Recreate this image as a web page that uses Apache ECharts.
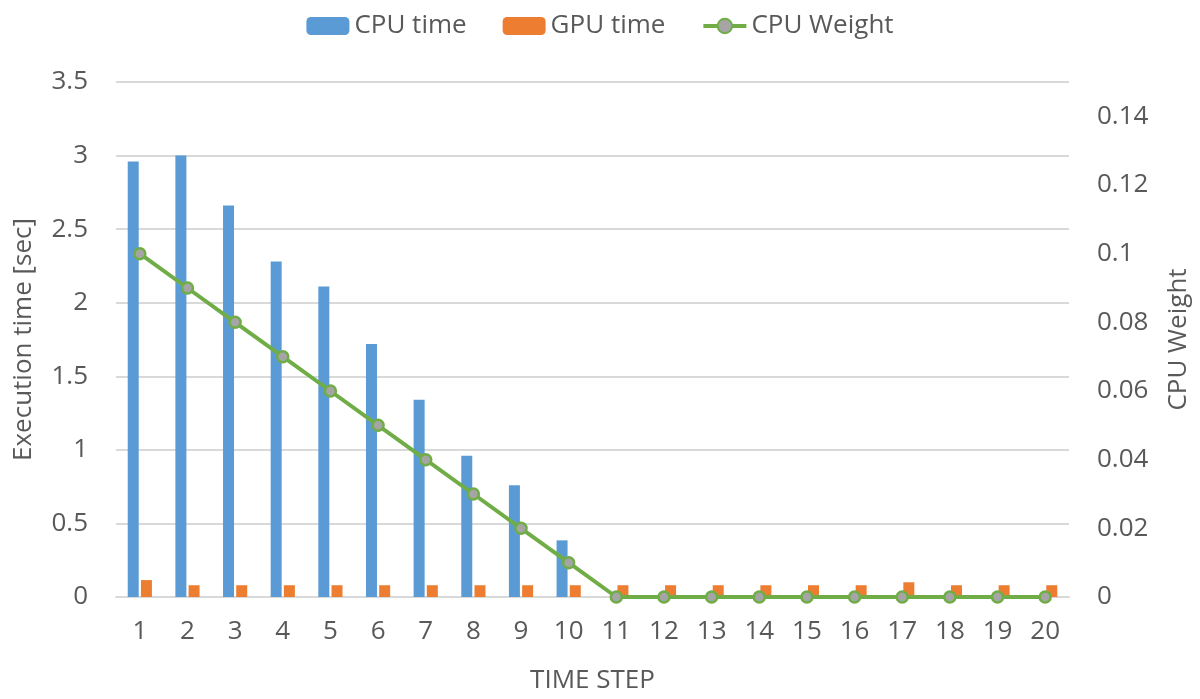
<!DOCTYPE html>
<html>
<head>
<meta charset="utf-8">
<script src="https://cdn.jsdelivr.net/npm/echarts@6/dist/echarts.min.js"></script>
<style>
html,body{margin:0;padding:0;background:#fff;}
#c{width:1200px;height:699px;}
</style>
</head>
<body>
<div id="c"></div>
<script>
var categories = ['1','2','3','4','5','6','7','8','9','10','11','12','13','14','15','16','17','18','19','20'];
var cpuTime = [2.96, 3.0, 2.66, 2.28, 2.11, 1.72, 1.34, 0.96, 0.76, 0.385, 0, 0, 0, 0, 0, 0, 0, 0, 0, 0];
var gpuTime = [0.115, 0.08, 0.08, 0.08, 0.08, 0.08, 0.08, 0.08, 0.08, 0.08, 0.08, 0.08, 0.08, 0.08, 0.08, 0.08, 0.1, 0.08, 0.08, 0.08];
var cpuWeight = [0.1, 0.09, 0.08, 0.07, 0.06, 0.05, 0.04, 0.03, 0.02, 0.01, 0, 0, 0, 0, 0, 0, 0, 0, 0, 0];

var FONT = '"Open Sans", "Noto Sans", sans-serif';
var TXT = '#595959';
var chart = echarts.init(document.getElementById('c'), null, {renderer: 'canvas'});
chart.setOption({
  animation: false,
  textStyle: {fontFamily: FONT, color: TXT},
  legend: {
    top: 8,
    left: 'center',
    itemWidth: 43,
    itemHeight: 18,
    itemGap: 36,
    textStyle: {fontFamily: FONT, fontSize: 26, color: TXT},
    data: [
      {name: 'CPU time'},
      {name: 'GPU time'},
      {name: 'CPU Weight', lineStyle: {width: 4, color: '#70AD47'}}
    ]
  },
  grid: {left: 116, right: 128, top: 82, bottom: 99},
  xAxis: {
    type: 'category',
    data: categories,
    name: 'TIME STEP',
    nameLocation: 'middle',
    nameGap: 71,
    nameTextStyle: {fontFamily: FONT, fontSize: 26, color: TXT},
    axisLine: {lineStyle: {color: '#D9D9D9', width: 2}},
    axisTick: {show: false},
    axisLabel: {fontFamily: FONT, fontSize: 26, color: TXT, margin: 22}
  },
  yAxis: [{
    type: 'value',
    min: 0, max: 3.5, interval: 0.5,
    name: 'Execution time [sec]',
    nameLocation: 'middle',
    nameGap: 79,
    nameTextStyle: {fontFamily: FONT, fontSize: 26, color: TXT},
    axisLine: {show: false},
    axisTick: {show: false},
    axisLabel: {fontFamily: FONT, fontSize: 26, color: TXT, margin: 28},
    splitLine: {lineStyle: {color: '#D9D9D9', width: 2}}
  }, {
    type: 'value',
    min: 0, max: 0.15, interval: 0.02,
    name: 'CPU Weight',
    nameLocation: 'middle',
    nameGap: 97,
    nameTextStyle: {fontFamily: FONT, fontSize: 26, color: TXT},
    axisLine: {show: false},
    axisTick: {show: false},
    axisLabel: {fontFamily: FONT, fontSize: 26, color: TXT, margin: 28, showMaxLabel: false},
    splitLine: {show: false}
  }],
  series: [{
    name: 'CPU time',
    type: 'bar',
    data: cpuTime,
    barWidth: 11,
    barGap: '20%',
    itemStyle: {color: '#5B9BD5'}
  }, {
    name: 'GPU time',
    type: 'bar',
    data: gpuTime,
    barWidth: 11,
    barGap: '20%',
    itemStyle: {color: '#ED7D31'}
  }, {
    name: 'CPU Weight',
    type: 'line',
    yAxisIndex: 1,
    data: cpuWeight,
    symbol: 'circle',
    symbolSize: 11,
    lineStyle: {color: '#70AD47', width: 4},
    itemStyle: {color: '#A5A5A5', borderColor: '#70AD47', borderWidth: 2.5},
    z: 5
  }]
});
</script>
</body>
</html>
